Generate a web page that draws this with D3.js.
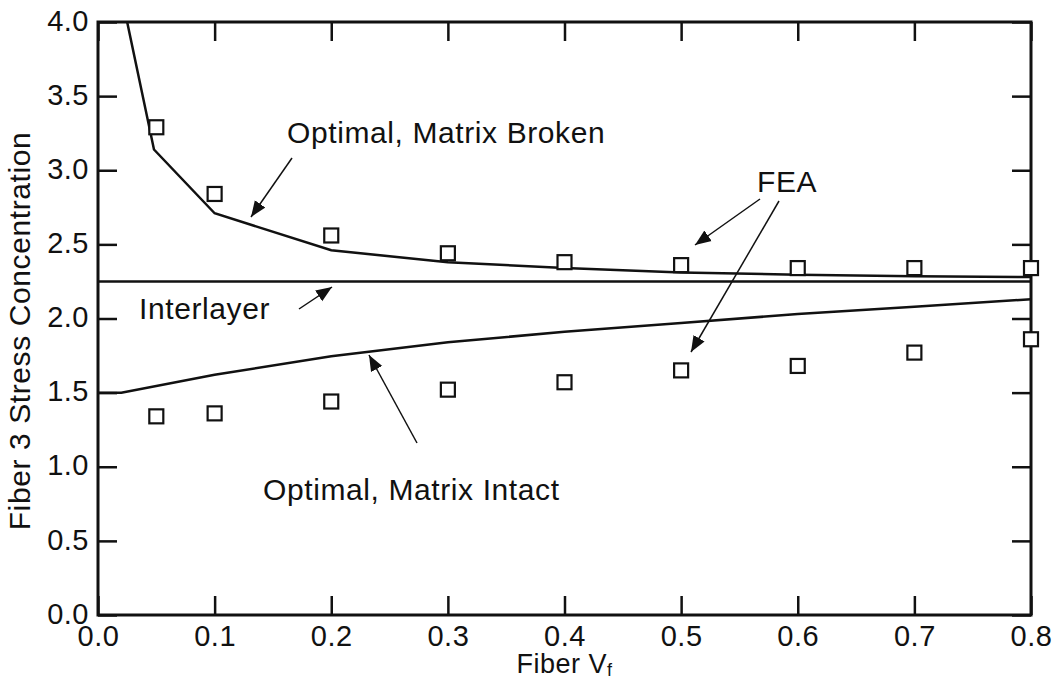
<!DOCTYPE html>
<html><head><meta charset="utf-8">
<script src="https://cdn.jsdelivr.net/npm/d3@7"></script>
<style>
body{margin:0;background:#fff;}
svg text{font-family:"Liberation Sans",Arial,Helvetica,sans-serif;fill:#111;}
</style></head>
<body><svg id="c" width="1054" height="682"></svg>
<script>
// ---- data ----
const xTicks = [0.0,0.1,0.2,0.3,0.4,0.5,0.6,0.7,0.8];
const yTicks = [0.0,0.5,1.0,1.5,2.0,2.5,3.0,3.5,4.0];
const feaX = [0.05,0.1,0.2,0.3,0.4,0.5,0.6,0.7,0.8];
const feaBroken = [3.29,2.84,2.56,2.44,2.38,2.36,2.34,2.34,2.34];
const feaIntact = [1.34,1.36,1.44,1.52,1.57,1.65,1.68,1.77,1.86];
const brokenX = [0.025,0.048,0.1,0.2,0.3,0.4,0.5,0.6,0.7,0.8];
const brokenY = [4.0,3.14,2.71,2.46,2.38,2.34,2.31,2.295,2.285,2.28];
const intactX = [0.0,0.02,0.1,0.2,0.3,0.4,0.5,0.6,0.7,0.8];
const intactY = [1.5,1.5,1.62,1.745,1.84,1.91,1.97,2.03,2.08,2.13];
const interX = [0.0,0.8];
const interY = [2.25,2.25];

const svg = d3.select("#c");
const L=98, R=1031, T=22, B=615;
const x = d3.scaleLinear().domain([0,0.8]).range([L,R]);
const y = d3.scaleLinear().domain([0,4]).range([B,T]);
const FS = 30, LS = "0.6px";

svg.append("defs").append("clipPath").attr("id","clip")
  .append("rect").attr("x",L).attr("y",T).attr("width",R-L).attr("height",B-T);
const mk = svg.select("defs").append("marker").attr("id","ah")
  .attr("viewBox","0 0 10 10").attr("refX",10).attr("refY",5)
  .attr("markerWidth",16).attr("markerHeight",16).attr("markerUnits","userSpaceOnUse")
  .attr("orient","auto");
mk.append("path").attr("d","M0,1 L10,5 L0,9 Z").attr("fill","#111");

// axes with inward ticks on four sides
const tl = 19;
function styleAxis(g){
  g.select(".domain").remove();
  g.selectAll(".tick line").attr("stroke","#111").attr("stroke-width",2.5);
  g.selectAll("text").attr("font-size",FS-1).attr("fill","#111")
   .style("font-family","'Liberation Sans',Arial,sans-serif").style("letter-spacing","0.5px");
}
const fmt = d3.format(".1f");
svg.append("g").attr("transform",`translate(0,${B})`)
  .call(d3.axisBottom(x).tickValues(xTicks).tickFormat(fmt).tickSizeInner(-tl).tickSizeOuter(0).tickPadding(10))
  .call(styleAxis).call(g=>g.selectAll("text").attr("dy","0.95em").attr("y",3));
svg.append("g").attr("transform",`translate(0,${T})`)
  .call(d3.axisTop(x).tickValues(xTicks).tickFormat("").tickSizeInner(-tl).tickSizeOuter(0))
  .call(styleAxis);
svg.append("g").attr("transform",`translate(${L},0)`)
  .call(d3.axisLeft(y).tickValues(yTicks).tickFormat(fmt).tickSizeInner(-tl).tickSizeOuter(0))
  .call(styleAxis).call(g=>g.selectAll("text").attr("x",-9).attr("dy","0.28em"));
svg.append("g").attr("transform",`translate(${R},0)`)
  .call(d3.axisRight(y).tickValues(yTicks).tickFormat("").tickSizeInner(-tl).tickSizeOuter(0))
  .call(styleAxis);
svg.append("rect").attr("x",L).attr("y",T).attr("width",R-L).attr("height",B-T)
  .attr("fill","none").attr("stroke","#111").attr("stroke-width",3);

// curves
const line = d3.line().x(d=>x(d[0])).y(d=>y(d[1]));
const plot = svg.append("g").attr("clip-path","url(#clip)");
[[brokenX,brokenY],[intactX,intactY],[interX,interY]].forEach(([xs,ys])=>{
  plot.append("path").attr("d",line(xs.map((v,i)=>[v,ys[i]])))
    .attr("fill","none").attr("stroke","#111").attr("stroke-width",2.5);
});

// FEA squares
const s = 14;
[feaBroken,feaIntact].forEach(ys=>{
  svg.append("g").selectAll("rect").data(feaX.map((v,i)=>[v,ys[i]])).join("rect")
    .attr("x",d=>x(d[0])-s/2).attr("y",d=>y(d[1])-s/2).attr("width",s).attr("height",s)
    .attr("fill","#fff").attr("stroke","#111").attr("stroke-width",2.2);
});

// annotations
function label(t,px,py){svg.append("text").attr("x",px).attr("y",py).attr("font-size",FS)
  .style("letter-spacing",LS).text(t);}
label("Optimal, Matrix Broken",287,143);
label("FEA",757,192);
label("Interlayer",139,319);
label("Optimal, Matrix Intact",263,500);
function arrow(x1,y1,x2,y2){
  svg.append("line").attr("x1",x1).attr("y1",y1).attr("x2",x2).attr("y2",y2)
    .attr("stroke","#111").attr("stroke-width",1.5).attr("marker-end","url(#ah)");
}
arrow(292,158,251,217);
arrow(760,199,695,245);
arrow(779,201,691,352);
arrow(299,309,332,287);
arrow(417,443,369,355);

// axis titles
const xt = svg.append("text").attr("x",(L+R)/2).attr("y",673).attr("text-anchor","middle")
  .attr("font-size",FS-3).style("letter-spacing","0.5px");
xt.append("tspan").text("Fiber V");
xt.append("tspan").attr("font-size",FS-12).attr("dy",3).text("f");
svg.append("text").attr("transform",`translate(30,331) rotate(-90)`)
  .attr("text-anchor","middle").attr("font-size",FS).style("letter-spacing",LS)
  .text("Fiber 3 Stress Concentration");
</script></body></html>
